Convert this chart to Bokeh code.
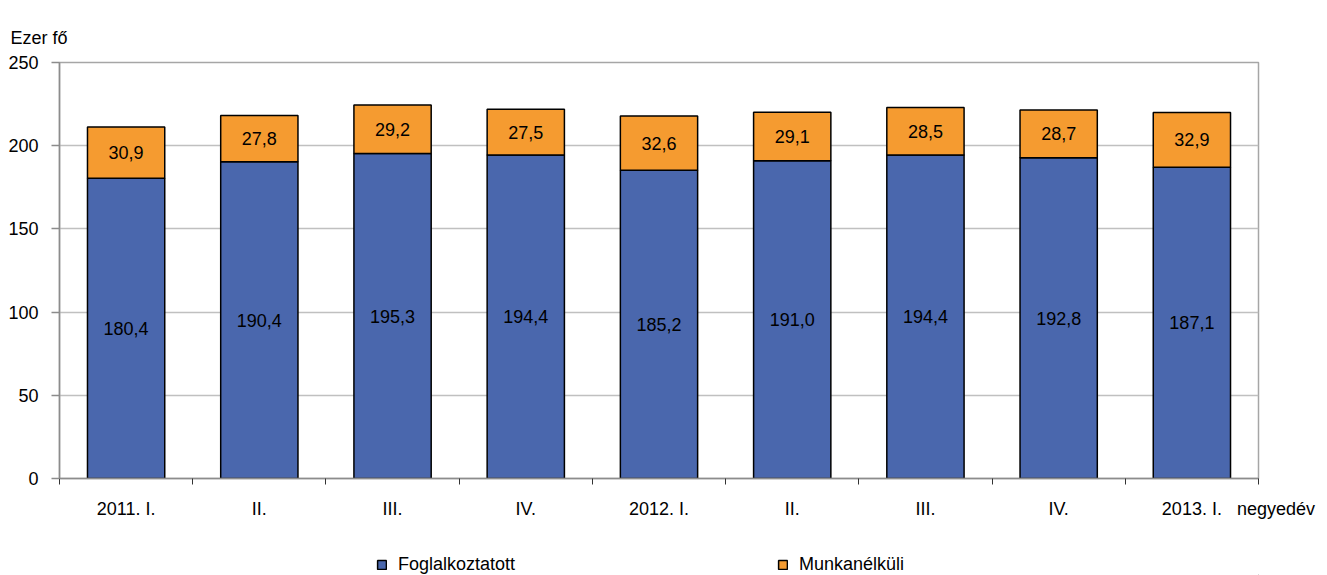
from bokeh.plotting import figure
from bokeh.models import FixedTicker, Range1d, LabelSet, ColumnDataSource, Title, Legend
from bokeh.layouts import column
from bokeh.core.properties import value
from bokeh.embed import file_html
from bokeh.resources import INLINE

categories = ["2011. I.", "II.", "III.", "IV.", "2012. I.", "II.", "III.", "IV.", "2013. I."]
employed = [180.4, 190.4, 195.3, 194.4, 185.2, 191.0, 194.4, 192.8, 187.1]
unemployed = [30.9, 27.8, 29.2, 27.5, 32.6, 29.1, 28.5, 28.7, 32.9]
y_ticks = [0, 50, 100, 150, 200, 250]
series_names = ["Foglalkoztatott", "Munkanélküli"]
y_title = "Ezer fő"
x_title = "negyedév"

FONT = "Liberation Sans"
FS = "18px"
BLUE = "#4A67AD"
ORANGE = "#F59B30"
colors = [BLUE, ORANGE]

n = len(categories)
xs = [i + 0.5 for i in range(n)]


def fmt(v):
    return f"{v:.1f}".replace(".", ",")


src = ColumnDataSource(dict(
    x=xs,
    emp=employed,
    top=[e + u for e, u in zip(employed, unemployed)],
    emp_mid=[e / 2 for e in employed],
    unemp_mid=[e + u / 2 for e, u in zip(employed, unemployed)],
    emp_lbl=[fmt(v) for v in employed],
    unemp_lbl=[fmt(v) for v in unemployed],
))

MAIN_H = 548
p = figure(width=1327, height=MAIN_H, x_range=Range1d(0, n), y_range=Range1d(0, 250),
           output_backend="svg", toolbar_location=None,
           min_border_left=59, min_border_top=62, min_border_right=69,
           min_border_bottom=MAIN_H - 478)
p.background_fill_color = "white"
p.border_fill_color = "white"
p.outline_line_color = "#a6a6a6"
p.outline_line_width = 1.5

p.vbar(x="x", bottom=0, top="emp", width=0.58, source=src, fill_color=BLUE,
       line_color="black", line_width=1.5)
p.vbar(x="x", bottom="emp", top="top", width=0.58, source=src, fill_color=ORANGE,
       line_color="black", line_width=1.5)

for col_y, col_t in (("emp_mid", "emp_lbl"), ("unemp_mid", "unemp_lbl")):
    p.add_layout(LabelSet(x="x", y=col_y, text=col_t, source=src, text_align="center",
                          text_baseline="middle", text_font=value(FONT),
                          text_font_size=FS, text_color="black"))

# x axis: category labels at bar centres, ticks at boundaries, axis title at right end
labels = {x: c for x, c in zip(xs, categories)}
labels[float(n)] = "\u00a0" * 7 + x_title
p.xaxis.ticker = FixedTicker(ticks=xs + [float(n)], minor_ticks=list(range(n + 1)))
p.xaxis.major_label_overrides = labels
p.xaxis.major_tick_out = 0
p.xaxis.major_tick_in = 0
p.xaxis.minor_tick_out = 6
p.xaxis.minor_tick_in = 0
p.xaxis.minor_tick_line_color = "#333333"
p.xaxis.axis_line_color = "#8c8c8c"
p.xaxis.axis_line_width = 1.5
p.xaxis.major_label_standoff = 14
p.xaxis.major_label_text_font = FONT
p.xaxis.major_label_text_font_size = FS
p.xaxis.major_label_text_color = "black"

p.yaxis.ticker = FixedTicker(ticks=y_ticks)
p.yaxis.major_tick_out = 8
p.yaxis.major_tick_in = 0
p.yaxis.major_tick_line_color = "#8c8c8c"
p.yaxis.major_tick_line_width = 1.5
p.yaxis.axis_line_color = "#8c8c8c"
p.yaxis.axis_line_width = 1.5
p.yaxis.major_label_standoff = 13
p.yaxis.major_label_text_font = FONT
p.yaxis.major_label_text_font_size = FS
p.yaxis.major_label_text_color = "black"

p.xgrid.visible = False
p.ygrid.ticker = FixedTicker(ticks=y_ticks)
p.ygrid.grid_line_color = "#c0c0c0"
p.ygrid.grid_line_width = 1.5

# y-axis unit title
t = Title(text=y_title, align="left", offset=-49, standoff=30,
          text_font=FONT, text_font_size=FS, text_font_style="normal", text_color="black")
p.add_layout(t, "above")

# legend strip below the chart
LEG_H = 575 - MAIN_H
pl = figure(width=1327, height=LEG_H, x_range=Range1d(0, 1), y_range=Range1d(0, 1),
            output_backend="svg", toolbar_location=None,
            min_border_left=0, min_border_right=0, min_border_top=0, min_border_bottom=0)
pl.axis.visible = False
pl.grid.visible = False
pl.outline_line_color = None
pl.background_fill_color = "white"
pl.border_fill_color = "white"
items = []
for name, c in zip(series_names, colors):
    # swatch renderer: its single bar lies beyond the strip's bottom-right corner
    r = pl.vbar(x=[5], bottom=[-20], top=[-19], width=0.1, fill_color=c,
                line_color="black", line_width=1.5)
    items.append((name, [r]))
lg = Legend(items=items, orientation="horizontal", location=(317, 0),
            border_line_color=None, background_fill_alpha=0, padding=0, margin=0,
            spacing=262, glyph_width=11, glyph_height=11, label_standoff=11,
            label_height=20, label_text_font=FONT, label_text_font_size=FS,
            label_text_color="black")
pl.add_layout(lg, "center")

layout = column(p, pl, spacing=0)
open("out.html", "w").write(file_html(layout, INLINE))
